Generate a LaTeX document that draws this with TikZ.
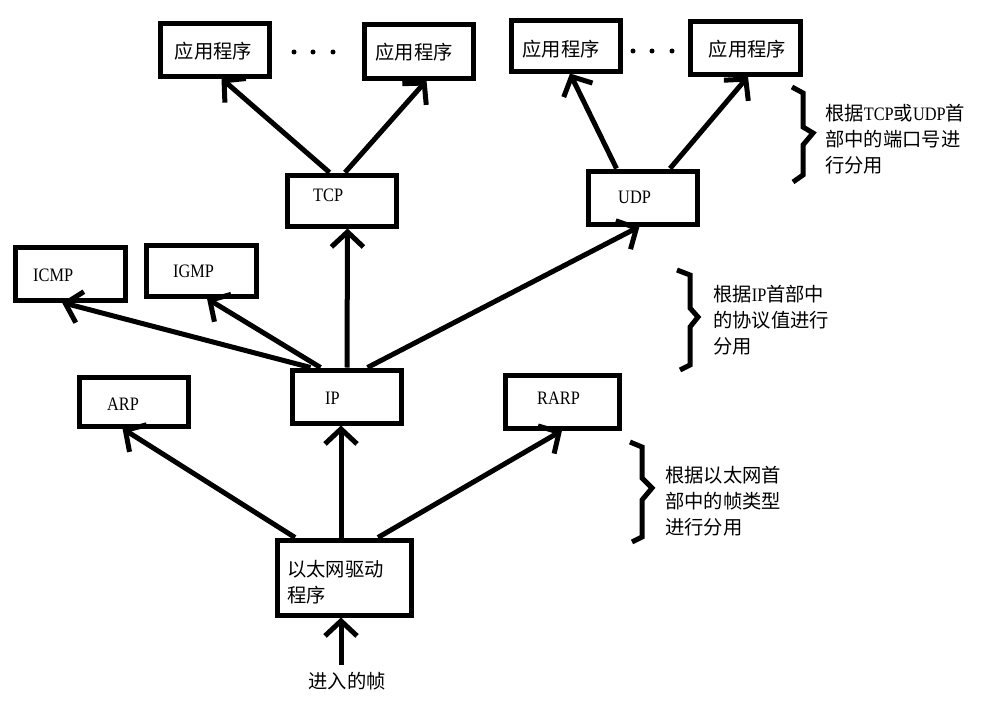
\documentclass[tikz,border=0pt]{standalone}
\usepackage{fontspec}
\setmainfont{Liberation Serif}[FakeStretch=0.86]
\newfontfamily\cjk{Noto Sans CJK SC}
\usetikzlibrary{arrows.meta}
\newcommand\latn[1]{{\rmfamily\fontsize{19}{26}\selectfont #1}}
\begin{document}
\begin{tikzpicture}[x=1pt,y=-1pt,
  box/.style={draw,line width=5pt,rectangle,inner sep=0pt},
  cn/.style={font=\cjk\fontsize{19.3}{26}\selectfont,inner sep=0pt},
  lt/.style={font=\fontsize{19}{20}\selectfont,inner sep=0pt,anchor=west},
  arr/.style={line width=5pt,-{Straight Barb[length=15pt,width=32pt]}},
  bracepath/.style={line width=5pt},
]
\useasboundingbox (0,0) rectangle (987,701);
% boxes
\node[box,minimum width=109pt,minimum height=52pt] (app1) at (214.5,50) {};
\node[box,minimum width=109pt,minimum height=53pt] (app2) at (418.5,51.5) {};
\node[box,minimum width=109pt,minimum height=50pt] (app3) at (565.5,46) {};
\node[box,minimum width=110pt,minimum height=52pt] (app4) at (745,48) {};
\node[box,minimum width=109pt,minimum height=51pt] (tcp) at (341.5,200.5) {};
\node[box,minimum width=109pt,minimum height=53pt] (udp) at (642.5,197.5) {};
\node[box,minimum width=110pt,minimum height=53pt] (icmp) at (70,273.5) {};
\node[box,minimum width=110pt,minimum height=51pt] (igmp) at (201,270.5) {};
\node[box,minimum width=109pt,minimum height=49pt] (arp) at (133.5,401.5) {};
\node[box,minimum width=109pt,minimum height=53pt] (ip) at (346.5,396.5) {};
\node[box,minimum width=114pt,minimum height=53pt] (rarp) at (562,401.5) {};
\node[box,minimum width=134pt,minimum height=75pt] (eth) at (344,577.5) {};
% texts
\node[cn] (app1t) at (213.5,51) {应用程序};
\node[cn] (app2t) at (414,52) {应用程序};
\node[cn] (app3t) at (561,49) {应用程序};
\node[cn] (app4t) at (747.5,49) {应用程序};
\node[lt] (tcpt) at (313,195) {TCP};
\node[lt] (udpt) at (618,197) {UDP};
\node[lt] (icmpt) at (33,275) {ICMP};
\node[lt] (igmpt) at (173,271) {IGMP};
\node[lt] (arpt) at (107,404) {ARP};
\node[lt] (ipt) at (325,398) {IP};
\node[lt] (rarpt) at (537,398) {RARP};
\node[cn,anchor=west,align=left] (etht) at (287,582) {以太网驱动\\程序};
\node[cn] (intext) at (347,681) {进入的帧};
\node[cn,anchor=west,align=left] (b1t) at (825,139) {根据\latn{TCP}或\latn{UDP}首\\部中的端口号进\\行分用};
\node[cn,anchor=west,align=left] (b2t) at (713,320) {根据\latn{IP}首部中\\的协议值进行\\分用};
\node[cn,anchor=west,align=left] (b3t) at (665,501) {根据以太网首\\部中的帧类型\\进行分用};
% dots
\foreach \x in {294,313,333} \fill (\x,52) circle (2.5pt);
\foreach \x in {633,652,672} \fill (\x,51) circle (2.5pt);
% braces
\draw[bracepath] (792,87) -- (803,93) -- (803,127) -- (813,133) -- (803,145) -- (803,175) -- (793,182);
\draw[bracepath] (677,270) -- (690,275) -- (690,308) -- (698,317) -- (690,327) -- (690,365) -- (680,370);
\draw[bracepath] (630,442) -- (642,447) -- (642,478) -- (652,488) -- (642,500) -- (642,537) -- (632,542);
% arrows
\coordinate (inS) at (341,665);
\draw[arr] (inS) -- ([xshift=-3pt]eth.south);
\draw[arr] ([xshift=-49pt]eth.north) -- ([xshift=-11pt]arp.south);
\draw[arr] ([xshift=-3pt]eth.north) -- ([xshift=-5.5pt]ip.south);
\draw[arr] ([xshift=34pt]eth.north) -- (rarp.south);
\draw[arr] ([xshift=-36pt]ip.north) -- ([xshift=-8pt]icmp.south);
\draw[arr] ([xshift=-26pt]ip.north) -- ([xshift=6pt]igmp.south);
\draw[arr] ([xshift=0.5pt]ip.north) -- ([xshift=6pt]tcp.south);
\draw[arr] ([xshift=21pt]ip.north) -- ([xshift=-3pt]udp.south);
\draw[arr] ([xshift=-12pt]tcp.north) -- ([xshift=7pt]app1.south);
\draw[arr] ([xshift=3.5pt]tcp.north) -- ([xshift=8pt]app2.south);
\draw[arr] ([xshift=-26pt]udp.north) -- ([xshift=4.5pt]app3.south);
\draw[arr] ([xshift=27.5pt]udp.north) -- ([xshift=3pt]app4.south);
\end{tikzpicture}
\end{document}
